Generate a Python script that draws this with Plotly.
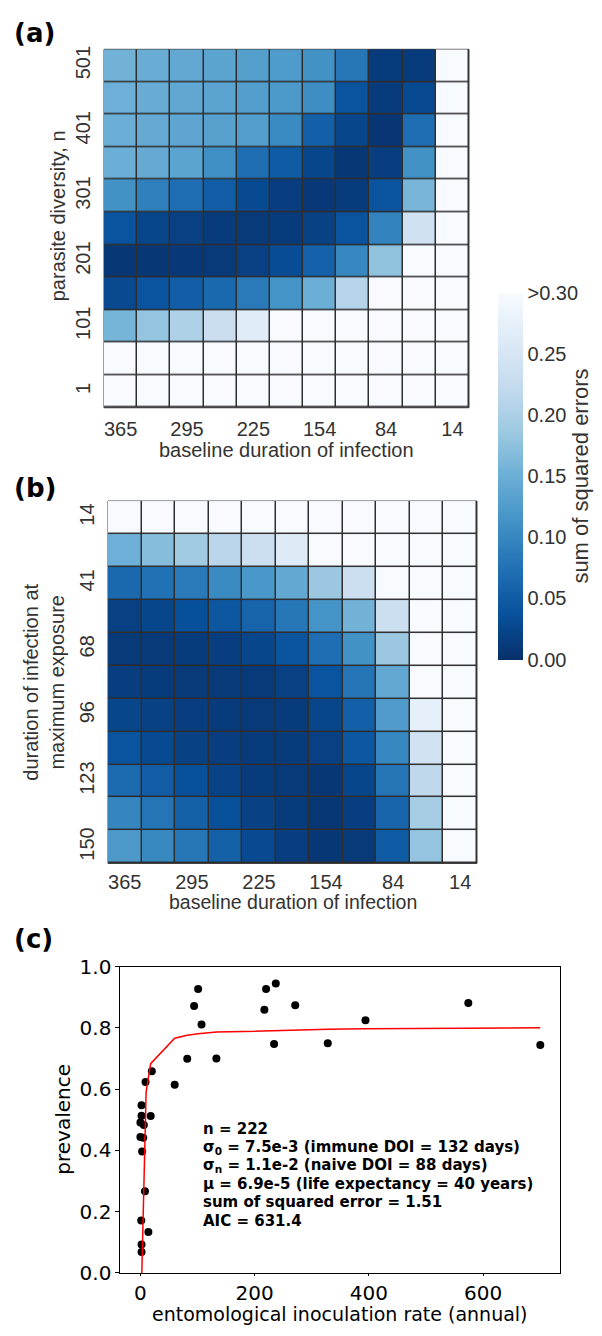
import plotly.graph_objects as go

W, H = 602, 1336

# ---- shared column axis of the two heatmaps: baseline duration of infection (days)
baseline_doi = ["365", "330", "295", "260", "225", "189", "154", "119", "84", "49", "14"]
baseline_ticks = ["365", "295", "225", "154", "84", "14"]

# ---- panel (a): parasite diversity n (bottom row first)
diversity_n = ["1", "51", "101", "151", "201", "251", "301", "351", "401", "451", "501"]
diversity_ticks = ["1", "101", "201", "301", "401", "501"]

# sum of squared errors, one row per diversity value (same order as diversity_n)
sse_a = [
    [0.40, 0.40, 0.40, 0.40, 0.40, 0.40, 0.40, 0.40, 0.40, 0.40, 0.40],
    [0.40, 0.40, 0.40, 0.40, 0.40, 0.40, 0.40, 0.40, 0.40, 0.40, 0.40],
    [0.158, 0.180, 0.203, 0.232, 0.265, 0.40, 0.40, 0.40, 0.40, 0.40, 0.40],
    [0.028, 0.040, 0.052, 0.065, 0.085, 0.115, 0.150, 0.210, 0.40, 0.40, 0.40],
    [0.008, 0.008, 0.009, 0.010, 0.018, 0.032, 0.058, 0.100, 0.178, 0.40, 0.40],
    [0.040, 0.025, 0.018, 0.012, 0.010, 0.012, 0.020, 0.040, 0.095, 0.240, 0.40],
    [0.112, 0.092, 0.072, 0.052, 0.030, 0.015, 0.009, 0.012, 0.040, 0.160, 0.40],
    [0.150, 0.145, 0.135, 0.110, 0.072, 0.050, 0.025, 0.008, 0.015, 0.112, 0.40],
    [0.150, 0.145, 0.138, 0.133, 0.128, 0.105, 0.055, 0.025, 0.007, 0.072, 0.40],
    [0.152, 0.147, 0.140, 0.135, 0.128, 0.122, 0.108, 0.040, 0.012, 0.030, 0.40],
    [0.155, 0.148, 0.142, 0.136, 0.130, 0.124, 0.112, 0.082, 0.012, 0.012, 0.40],
]

# ---- panel (b): duration of infection at maximum exposure (top row first)
max_exposure_doi = ["14", "27", "41", "55", "68", "82", "96", "109", "123", "136", "150"]
max_exposure_ticks = ["14", "41", "68", "96", "123", "150"]

sse_b = [
    [0.40, 0.40, 0.40, 0.40, 0.40, 0.40, 0.40, 0.40, 0.40, 0.40, 0.40],
    [0.152, 0.170, 0.190, 0.215, 0.235, 0.262, 0.40, 0.40, 0.40, 0.40, 0.40],
    [0.065, 0.075, 0.085, 0.105, 0.120, 0.142, 0.185, 0.235, 0.40, 0.40, 0.40],
    [0.018, 0.025, 0.035, 0.045, 0.060, 0.082, 0.115, 0.155, 0.235, 0.40, 0.40],
    [0.010, 0.010, 0.012, 0.016, 0.025, 0.042, 0.072, 0.112, 0.185, 0.40, 0.40],
    [0.015, 0.012, 0.010, 0.010, 0.010, 0.018, 0.040, 0.078, 0.142, 0.31, 0.40],
    [0.025, 0.020, 0.015, 0.012, 0.010, 0.012, 0.025, 0.055, 0.125, 0.275, 0.40],
    [0.040, 0.030, 0.020, 0.015, 0.012, 0.012, 0.018, 0.045, 0.100, 0.242, 0.40],
    [0.068, 0.052, 0.036, 0.022, 0.012, 0.010, 0.008, 0.025, 0.078, 0.218, 0.40],
    [0.098, 0.078, 0.056, 0.036, 0.020, 0.012, 0.008, 0.015, 0.060, 0.195, 0.40],
    [0.122, 0.102, 0.082, 0.056, 0.030, 0.015, 0.008, 0.010, 0.050, 0.180, 0.40],
]

# colour bar ticks
cbar_vals = [0.0, 0.05, 0.10, 0.15, 0.20, 0.25, 0.30]
cbar_text = ["0.00", "0.05", "0.10", "0.15", "0.20", "0.25", ">0.30"]

# ---- panel (c): observed prevalence vs annual EIR
eir_obs = [2, 2, 18, 0, 6, 0, 5, 3, 8, 1.5, 14, 2, 2,
           9, 20, 60, 82, 94, 101, 107, 133, 217, 220, 237, 234, 271, 328, 394, 574, 700]
prev_obs = [0.547, 0.513, 0.512, 0.491, 0.483, 0.444, 0.441, 0.396, 0.267, 0.171, 0.134, 0.093, 0.068,
            0.623, 0.658, 0.614, 0.699, 0.871, 0.927, 0.811, 0.700, 0.859, 0.927, 0.945, 0.747,
            0.874, 0.750, 0.825, 0.881, 0.744]

# fitted model prevalence
eir_fit = [2.5, 10, 18, 60, 82, 101, 133, 220, 271, 328, 394, 574, 700]
prev_fit = [0.0, 0.59, 0.683, 0.766, 0.776, 0.781, 0.786, 0.791, 0.793, 0.795, 0.797, 0.799, 0.800]

fit_summary = [
    "n = 222",
    "σ<sub>0</sub> = 7.5e-3 (immune DOI = 132 days)",
    "σ<sub>n</sub> = 1.1e-2 (naive DOI = 88 days)",
    "μ = 6.9e-5 (life expectancy = 40 years)",
    "sum of squared error = 1.51",
    "AIC = 631.4",
]

# ---------------------------------------------------------------------------
BLUES = ["#08306b", "#08519c", "#2171b5", "#4292c6", "#6baed6",
         "#9ecae1", "#c6dbef", "#deebf7", "#f7fbff"]
blues_scale = [[i / (len(BLUES) - 1), c] for i, c in enumerate(BLUES)]

SANS = "Liberation Sans, Arial, sans-serif"
DEJAVU = "DejaVu Sans, sans-serif"
GREY = "#333333"


def px_x(a, b):
    return [a / W, b / W]


def px_y(top, bottom):
    return [1 - bottom / H, 1 - top / H]


fig = go.Figure()

fig.add_trace(go.Heatmap(
    x=baseline_doi, y=diversity_n, z=sse_a,
    colorscale=blues_scale, zmin=0, zmax=0.30,
    xgap=1.5, ygap=1.5,
    xaxis="x", yaxis="y",
    colorbar=dict(
        x=498 / W, xanchor="left", xpad=0,
        y=1 - 472.5 / H, yanchor="middle", ypad=0,
        len=367, lenmode="pixels",
        thickness=25, thicknessmode="pixels",
        outlinewidth=0,
        tickvals=cbar_vals, ticktext=cbar_text, ticks="",
        tickfont=dict(family=SANS, size=20, color=GREY),
        title=dict(text="sum of squared errors", side="right",
                   font=dict(family=SANS, size=22, color=GREY)),
    ),
))

fig.add_trace(go.Heatmap(
    x=baseline_doi, y=max_exposure_doi, z=sse_b,
    colorscale=blues_scale, zmin=0, zmax=0.30,
    xgap=1.5, ygap=1.5, showscale=False,
    xaxis="x2", yaxis="y2",
))

fig.add_trace(go.Scatter(
    x=eir_obs, y=prev_obs, mode="markers",
    marker=dict(color="black", size=8),
    xaxis="x3", yaxis="y3", showlegend=False,
))
fig.add_trace(go.Scatter(
    x=eir_fit, y=prev_fit, mode="lines",
    line=dict(color="red", width=1.5),
    xaxis="x3", yaxis="y3", showlegend=False,
))

heat_x = dict(type="category", tickvals=baseline_ticks, showgrid=False, zeroline=False,
              ticks="outside", tickcolor="rgba(0,0,0,0)",
              tickfont=dict(family=SANS, size=20, color=GREY))
heat_y = dict(type="category", showgrid=False, zeroline=False, tickangle=-90,
              ticks="outside", ticklen=5, tickcolor="rgba(0,0,0,0)",
              tickfont=dict(family=SANS, size=20, color=GREY))

fig.update_layout(
    width=W, height=H,
    margin=dict(l=0, r=0, t=0, b=0),
    paper_bgcolor="white", plot_bgcolor="white",
    showlegend=False,
    xaxis=dict(domain=px_x(104, 469), anchor="y", ticklen=3, **heat_x),
    yaxis=dict(domain=px_y(38, 403), anchor="x", tickvals=diversity_ticks, **heat_y),
    xaxis2=dict(domain=px_x(108, 477), anchor="y2", ticklen=1, **heat_x),
    yaxis2=dict(domain=px_y(498, 867), anchor="x2", tickvals=max_exposure_ticks,
                autorange="reversed", **heat_y),
    xaxis3=dict(domain=px_x(120.4, 560.3), anchor="y3", range=[-35, 735],
                tickvals=[0, 200, 400, 600], showgrid=False, zeroline=False,
                showline=True, mirror=True, linecolor="black", linewidth=1,
                ticks="outside", ticklen=2, tickcolor="black",
                tickfont=dict(family=DEJAVU, size=20, color="black")),
    yaxis3=dict(domain=px_y(972, 1284), anchor="x3", range=[0, 1],
                tickvals=[0, 0.2, 0.4, 0.6, 0.8, 1.0], tickformat=".1f",
                showgrid=False, zeroline=False,
                showline=True, mirror=True, linecolor="black", linewidth=1,
                ticks="outside", ticklen=4, tickcolor="black",
                tickfont=dict(family=DEJAVU, size=20, color="black")),
)

# dark backing behind the heatmap cells so the gaps read as grid lines
for xr, yr in (("x domain", "y domain"), ("x2 domain", "y2 domain")):
    fig.add_shape(type="rect", xref=xr, yref=yr, x0=0, x1=1, y0=0, y1=1,
                  fillcolor="#2e2e2e", line=dict(color="#3a3a3a", width=1), layer="below")


def note(text, x, y, size, family, color="black", angle=0, xanchor="center"):
    fig.add_annotation(text=text, x=x / W, y=1 - y / H, xref="paper", yref="paper",
                       showarrow=False, textangle=angle, xanchor=xanchor, yanchor="middle",
                       font=dict(family=family, size=size, color=color))


# panel letters
note("<b>(a)</b>", 12, 21, 26, DEJAVU, xanchor="left")
note("<b>(b)</b>", 12, 485, 26, DEJAVU, xanchor="left")
note("<b>(c)</b>", 12, 944, 26, DEJAVU, xanchor="left")

# axis titles
note("baseline duration of infection", 286.5, 446, 20, SANS, GREY)
note("parasite diversity, n", 58, 208, 20, SANS, GREY, angle=-90)
note("baseline duration of infection", 292.5, 906.5, 19.5, SANS, GREY)
note("duration of infection at<br>maximum exposure", 44, 683, 20, SANS, GREY, angle=-90)
note("entomological inoculation rate (annual)", 340, 1325.5, 19, DEJAVU)
note("prevalence", 63, 1128, 20, DEJAVU, angle=-90)

# fit summary
for i, line in enumerate(fit_summary):
    note("<b>" + line + "</b>", 200.7, 1137.3 + i * 18.7, 15, DEJAVU, xanchor="left")

fig.write_html("out.html")
